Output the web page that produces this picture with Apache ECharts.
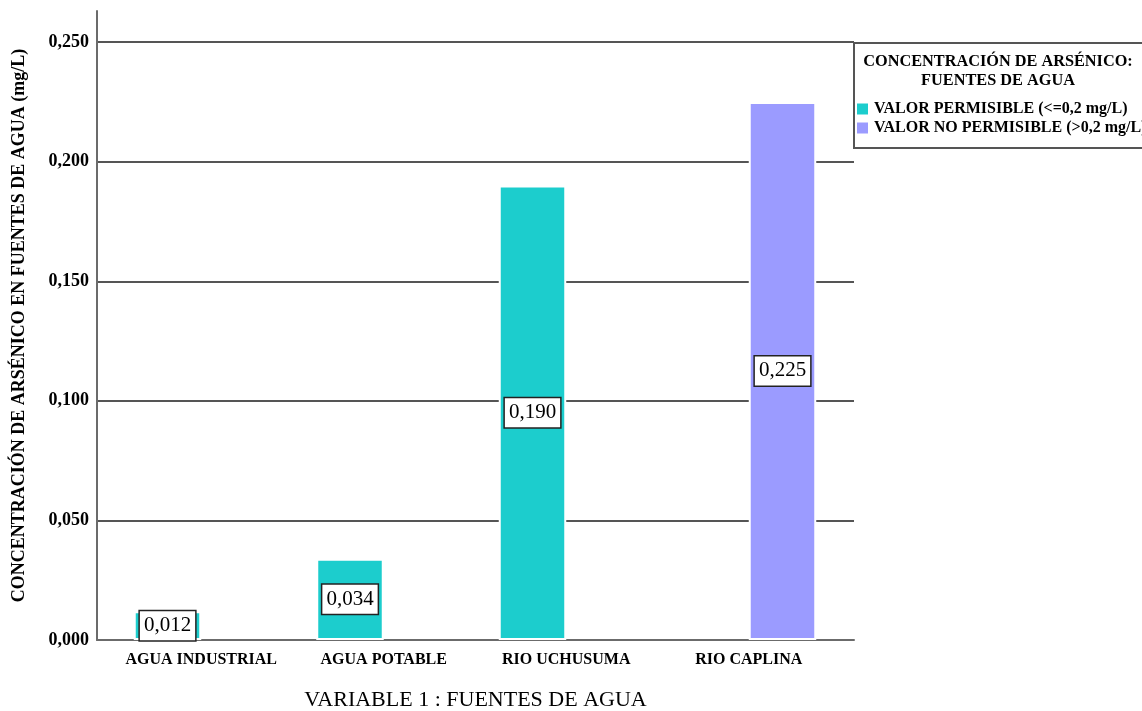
<!DOCTYPE html>
<html>
<head>
<meta charset="utf-8">
<script src="https://cdn.jsdelivr.net/npm/echarts@6/dist/echarts.min.js"></script>
<style>html,body{margin:0;padding:0;background:#fff}#c{width:1142px;height:711px}</style>
</head>
<body>
<div id="c"></div>
<script>
const categories = ['AGUA INDUSTRIAL', 'AGUA POTABLE', 'RIO UCHUSUMA', 'RIO CAPLINA'];
const permisible = [0.012, 0.034, 0.190, '-'];
const noPermisible = ['-', '-', '-', 0.225];
const seriesNames = ['VALOR PERMISIBLE (<=0,2 mg/L)', 'VALOR NO PERMISIBLE (>0,2 mg/L)'];
const legendTitle = ['CONCENTRACIÓN DE ARSÉNICO:', 'FUENTES DE AGUA'];
const yTitle = 'CONCENTRACIÓN DE ARSÉNICO EN FUENTES DE AGUA (mg/L)';
const xTitle = 'VARIABLE 1 : FUENTES DE AGUA';

const SERIF = '"Liberation Serif", "Times New Roman", serif';
const fmt = v => v.toFixed(3).replace('.', ',');
const YMAX = 0.263;

const chart = echarts.init(document.getElementById('c'), null, {renderer: 'canvas'});
const labelStyle = {
  show: true, position: 'inside', formatter: p => fmt(p.value),
  fontFamily: SERIF, fontSize: 21, color: '#000',
  backgroundColor: '#fff', borderColor: '#222', borderWidth: 1.5,
  padding: [5, 4, 3, 4]
};
chart.setOption({
  animation: false,
  grid: [
    {left: 97, right: 1142 - 854, top: 11, bottom: 711 - 640, containLabel: false, outerBoundsMode: 'none'},
    {left: 110, right: 1142 - 840, top: 11, bottom: 711 - 640, containLabel: false, outerBoundsMode: 'none'}
  ],
  xAxis: [
    {gridIndex: 0, type: 'value', min: 0, max: 1, axisLabel: {show: false}, splitLine: {show: false},
     axisTick: {show: false}, axisLine: {show: true, lineStyle: {color: '#6b6b6b', width: 2}},
     name: xTitle, nameLocation: 'middle', nameGap: 49,
     nameTextStyle: {fontFamily: SERIF, fontSize: 22, color: '#000'}},
    {gridIndex: 1, type: 'category', data: categories, axisLine: {show: false}, axisTick: {show: false},
     axisLabel: {fontFamily: SERIF, fontWeight: 'bold', fontSize: 16, color: '#000', margin: 12, interval: 0}}
  ],
  yAxis: [
    {gridIndex: 0, type: 'value', min: 0, max: YMAX, interval: 0.05,
     axisLine: {show: true, lineStyle: {color: '#6b6b6b', width: 2}}, axisTick: {show: false},
     splitLine: {show: true, showMaxLine: false, lineStyle: {color: '#555', width: 2}},
     axisLabel: {fontFamily: SERIF, fontWeight: 'bold', fontSize: 18, color: '#000', margin: 8,
       showMaxLabel: false,
       formatter: v => Math.abs(v / 0.05 - Math.round(v / 0.05)) < 1e-6 ? fmt(v) : ''},
     name: yTitle, nameLocation: 'middle', nameGap: 69, nameRotate: 90,
     nameTextStyle: {fontFamily: SERIF, fontWeight: 'bold', fontSize: 18, color: '#000'}},
    {gridIndex: 1, type: 'value', min: 0, max: YMAX, show: false}
  ],
  legend: {
    orient: 'vertical', left: 850, top: 96, itemWidth: 13, itemHeight: 13, itemGap: 3,
    icon: 'rect', selectedMode: false,
    textStyle: {fontFamily: SERIF, fontWeight: 'bold', fontSize: 16, color: '#000'},
    data: seriesNames
  },
  graphic: [
    {type: 'rect', shape: {x: 854, y: 43, width: 300, height: 105}, style: {fill: 'none', stroke: '#555', lineWidth: 2}, z: 100},
    {type: 'text', x: 998, y: 62, style: {text: legendTitle[0], font: 'bold 16.3px ' + SERIF, fill: '#000', textAlign: 'center', textVerticalAlign: 'middle'}},
    {type: 'text', x: 998, y: 81, style: {text: legendTitle[1], font: 'bold 16.3px ' + SERIF, fill: '#000', textAlign: 'center', textVerticalAlign: 'middle'}}
  ],
  series: [
    {name: seriesNames[0], type: 'bar', xAxisIndex: 1, yAxisIndex: 1, data: permisible,
     barWidth: 67.5, barGap: '0%', itemStyle: {color: '#1ccdcd', borderColor: '#fff', borderWidth: 2},
     label: labelStyle},
    {name: seriesNames[1], type: 'bar', xAxisIndex: 1, yAxisIndex: 1, data: noPermisible,
     barWidth: 67.5, barGap: '0%', itemStyle: {color: '#9b9bff', borderColor: '#fff', borderWidth: 2},
     label: labelStyle}
  ]
});
</script>
</body>
</html>
